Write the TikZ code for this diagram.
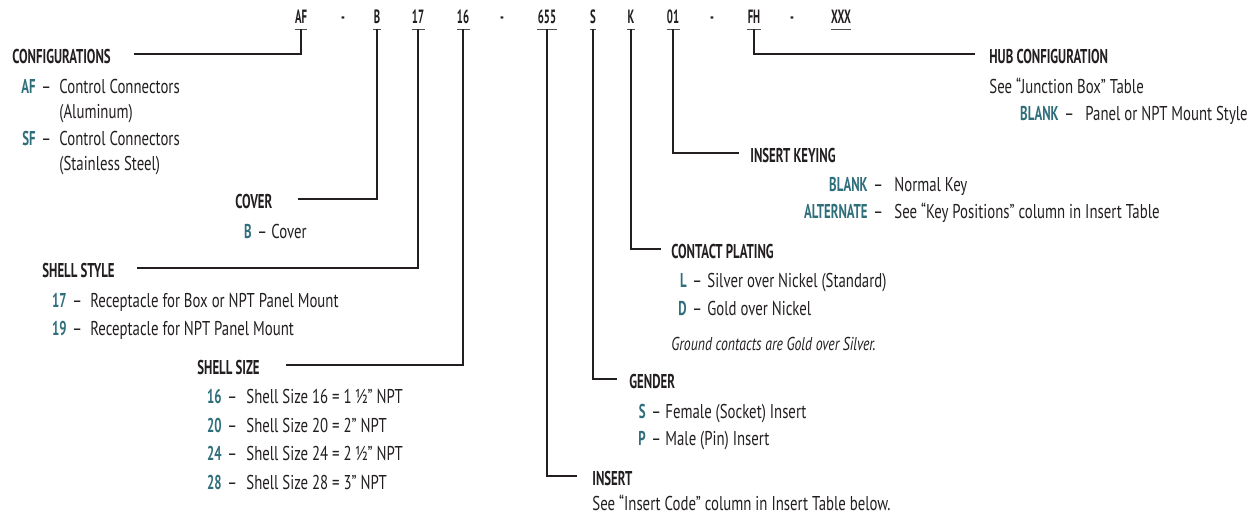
\documentclass[tikz,border=0pt]{standalone}
\usepackage{fontspec}
\setmainfont{PT Sans}[FakeStretch=0.74]
\newfontfamily\headfont{PT Sans}[FakeStretch=0.64]
\newfontfamily\partfont{PT Sans}[FakeStretch=0.56]
\usetikzlibrary{positioning}
\definecolor{ink}{HTML}{231F20}
\definecolor{keyteal}{HTML}{2F6E7B}

\begin{document}
\begin{tikzpicture}[
    x=0.5pt, y=-0.5pt,
    every node/.style={text=ink},
    codepart/.style={
        font=\partfont\bfseries\fontsize{9.6}{11}\selectfont,
        anchor=base,
        inner xsep=0pt,
        inner ysep=3pt,
        text depth=0pt
    },
    heading/.style={
        font=\headfont\bfseries\fontsize{10}{12}\selectfont,
        anchor=base west,
        inner sep=0pt,
        text height=9pt,
        text depth=0pt
    },
    keycode/.style={
        font=\headfont\bfseries\fontsize{10}{12}\selectfont,
        text=keyteal,
        anchor=base east,
        inner sep=0pt
    },
    sepmark/.style={font=\fontsize{10}{12}\selectfont, inner sep=0pt},
    desc/.style={font=\fontsize{10}{12}\selectfont, anchor=base west, inner sep=0pt},
    remark/.style={font=\itshape\fontsize{9.3}{11}\selectfont, anchor=base west, inner sep=0pt},
    bar/.style={draw=ink!80, line width=0.5pt},
    lead/.style={draw=ink, line width=1.15pt}
]
\useasboundingbox (0,0) rectangle (1254,521);

% part number
\node[codepart] (af)  at (301,23) {AF};
\node[codepart] (h1)  at (343,23) {-};
\node[codepart] (cv)  at (377,23) {B};
\node[codepart] (ss)  at (418,23) {17};
\node[codepart] (sz)  at (463,23) {16};
\node[codepart] (h2)  at (502,23) {-};
\node[codepart] (ins) at (547,23) {655};
\node[codepart] (gd)  at (593,23) {S};
\node[codepart] (pl)  at (631,23) {K};
\node[codepart] (ky)  at (673,23) {01};
\node[codepart] (h3)  at (712,23) {-};
\node[codepart] (hb)  at (754,23) {FH};
\node[codepart] (h4)  at (792,23) {-};
\node[codepart] (xx)  at (841,23) {XXX};

% configurations
\node[heading] (cfg) at (12,63) {CONFIGURATIONS};
\node[keycode] (afk) at (36,93) {AF};
\node[sepmark, base right=2.5pt of afk] (afd) {–};
\node[desc] (afx) at (59,93) {Control Connectors};
\node[desc] (afy) at (59,118) {(Aluminum)};
\node[keycode] (sfk) at (36,145) {SF};
\node[sepmark, base right=2.5pt of sfk] (sfd) {–};
\node[desc] (sfx) at (59,145) {Control Connectors};
\node[desc] (sfy) at (59,170) {(Stainless Steel)};

% cover
\node[heading] (cov) at (235,208) {COVER};
\node[keycode] (bk) at (252,238) {B};
\node[sepmark, base right=2.5pt of bk] (bd) {–};
\node[desc] (bx) at (271,238) {Cover};

% shell style
\node[heading] (sst) at (42,277) {SHELL STYLE};
\node[keycode] (s17) at (67,307) {17};
\node[sepmark, base right=2.5pt of s17] (s17d) {–};
\node[desc] (s17x) at (90,307) {Receptacle for Box or NPT Panel Mount};
\node[keycode] (s19) at (67,335) {19};
\node[sepmark, base right=2.5pt of s19] (s19d) {–};
\node[desc] (s19x) at (90,335) {Receptacle for NPT Panel Mount};

% shell size
\node[heading] (ssz) at (197,374) {SHELL SIZE};
\node[keycode] (z16) at (222,403) {16};
\node[sepmark, base right=2.5pt of z16] (z16d) {–};
\node[desc] (z16x) at (246,403) {Shell Size 16 = 1\,½” NPT};
\node[keycode] (z20) at (222,432) {20};
\node[sepmark, base right=2.5pt of z20] (z20d) {–};
\node[desc] (z20x) at (246,432) {Shell Size 20 = 2” NPT};
\node[keycode] (z24) at (222,460) {24};
\node[sepmark, base right=2.5pt of z24] (z24d) {–};
\node[desc] (z24x) at (246,460) {Shell Size 24 = 2\,½” NPT};
\node[keycode] (z28) at (222,489) {28};
\node[sepmark, base right=2.5pt of z28] (z28d) {–};
\node[desc] (z28x) at (246,489) {Shell Size 28 = 3” NPT};

% contact plating
\node[heading] (cpl) at (671,258) {CONTACT PLATING};
\node[keycode] (lk) at (687,287) {L};
\node[sepmark, base right=2.5pt of lk] (ld) {–};
\node[desc] (lx) at (707,287) {Silver over Nickel (Standard)};
\node[keycode] (dk) at (687,315) {D};
\node[sepmark, base right=2.5pt of dk] (dd) {–};
\node[desc] (dx) at (707,315) {Gold over Nickel};
\node[remark] (gnd) at (671,350) {Ground contacts are Gold over Silver.};

% gender
\node[heading] (gen) at (629,388) {GENDER};
\node[keycode] (sk) at (646,418) {S};
\node[sepmark, base right=2.5pt of sk] (sd) {–};
\node[desc] (sx) at (665,418) {Female (Socket) Insert};
\node[keycode] (pk) at (646,445) {P};
\node[sepmark, base right=2.5pt of pk] (pd) {–};
\node[desc] (px) at (665,445) {Male (Pin) Insert};

% insert
\node[heading] (inh) at (592,485) {INSERT};
\node[desc] (inx) at (592,510) {See “Insert Code” column in Insert Table below.};

% insert keying
\node[heading] (kyh) at (750,162) {INSERT KEYING};
\node[keycode] (nk) at (868,191) {BLANK};
\node[sepmark, base right=2.5pt of nk] (nd) {–};
\node[desc] (nx) at (894,191) {Normal Key};
\node[keycode] (ak) at (868,218) {ALTERNATE};
\node[sepmark, base right=2.5pt of ak] (ad) {–};
\node[desc] (ax) at (894,218) {See “Key Positions” column in Insert Table};

% hub configuration
\node[heading] (hbh) at (989,63) {HUB CONFIGURATION};
\node[desc] (hbx) at (989,93) {See “Junction Box” Table};
\node[keycode] (bl) at (1059,120) {BLANK};
\node[sepmark, base right=2.5pt of bl] (bld) {–};
\node[desc] (blx) at (1085,120) {Panel or NPT Mount Style};

% underlines
\draw[bar] (af.south west) -- (af.south east);
\draw[bar] (cv.south west) -- (cv.south east);
\draw[bar] (ss.south west) -- (ss.south east);
\draw[bar] (sz.south west) -- (sz.south east);
\draw[bar] (ins.south west) -- (ins.south east);
\draw[bar] (gd.south west) -- (gd.south east);
\draw[bar] (pl.south west) -- (pl.south east);
\draw[bar] (ky.south west) -- (ky.south east);
\draw[bar] (hb.south west) -- (hb.south east);
\draw[bar] (xx.south west) -- (xx.south east);

% leaders
\draw[lead, shorten >=11.5pt] (af.south) |- (cfg.east);
\draw[lead, shorten >=12.5pt] (cv.south) |- (cov.east);
\draw[lead, shorten >=11pt] (ss.south) |- (sst.east);
\draw[lead, shorten >=13pt] (sz.south) |- (ssz.east);
\draw[lead, shorten >=7.5pt] (ins.south) |- (inh.west);
\draw[lead, shorten >=6pt] (gd.south) |- (gen.west);
\draw[lead, shorten >=5pt] (pl.south) |- (cpl.west);
\draw[lead, shorten >=5.5pt] (ky.south) |- (kyh.west);
\draw[lead, shorten >=7pt] (hb.south) |- (hbh.west);

\end{tikzpicture}
\end{document}
